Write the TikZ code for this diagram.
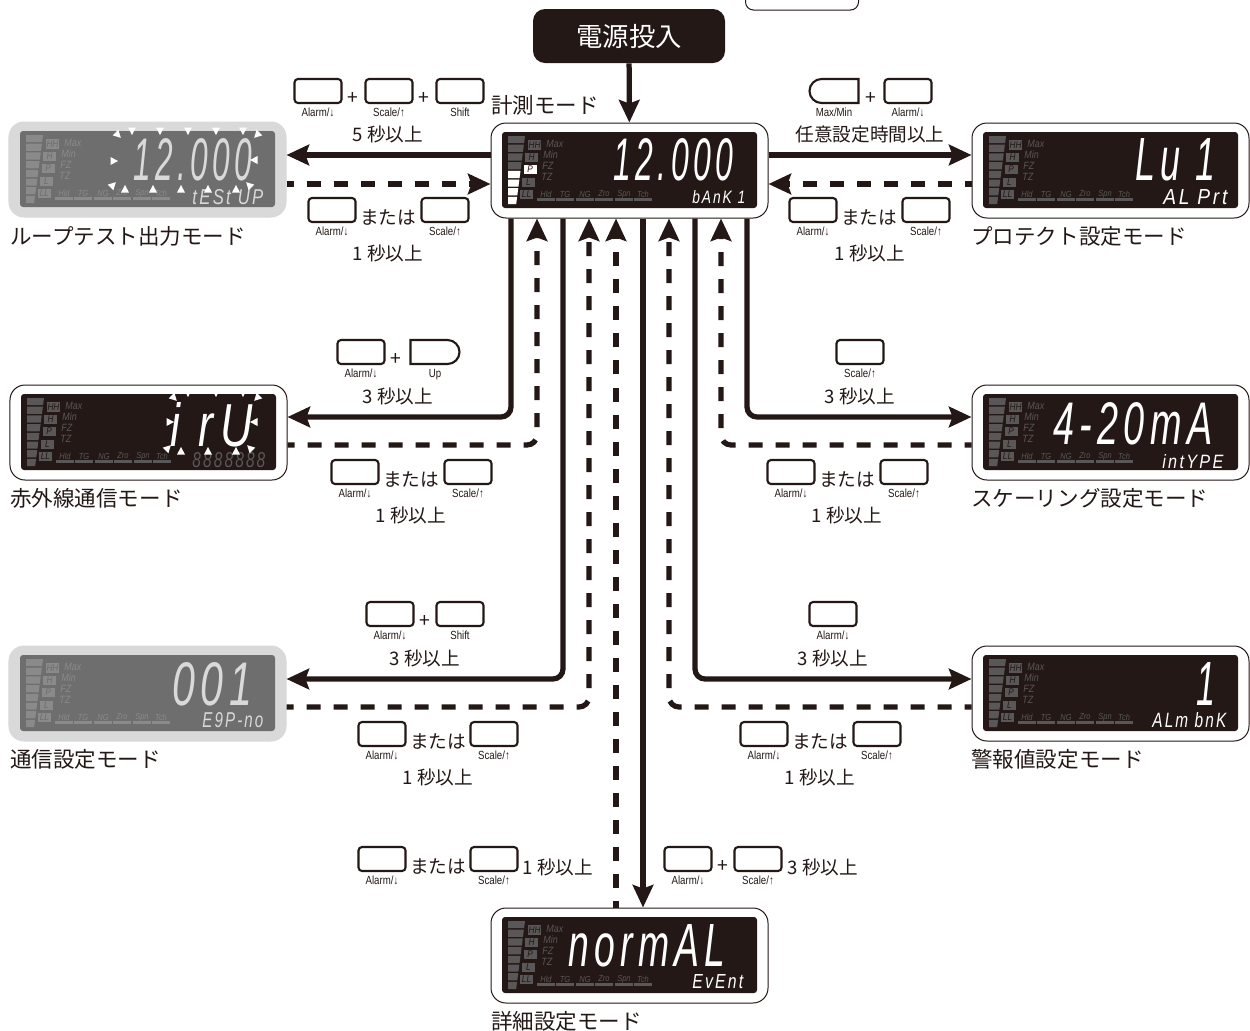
\documentclass[tikz,border=0pt]{standalone}
\usepackage{graphicx}
\usepackage{fontspec}
\setmainfont{Noto Sans CJK JP}
\newfontfamily\keyfont[FakeStretch=0.82]{Liberation Sans}
\newfontfamily\lcdfont[FakeStretch=0.85]{Liberation Sans}
\newfontfamily\segfont[LetterSpace=14]{Liberation Sans}
\usetikzlibrary{arrows.meta,positioning,shapes.misc}
\definecolor{sumi}{HTML}{231815}
\definecolor{legendon}{HTML}{595757}
\definecolor{legendoff}{HTML}{8A8A8A}
\definecolor{lcdoff}{HTML}{6E6E6E}
\definecolor{paneloff}{HTML}{D9D9D9}
\newdimen\lcdpx \lcdpx=0.2mm
\newcommand\seg[3]{\resizebox{#1\lcdpx}{#2\lcdpx}{\segfont\itshape #3}}
\tikzset{
  panel/.style={draw=sumi,line width=.2mm,fill=white,rounded corners=3mm,minimum width=55.4mm,minimum height=19mm,inner sep=0pt},
  paneldim/.style={panel,draw=paneloff,fill=paneloff},
  keyrect/.style={draw=sumi,line width=.42mm,rounded corners=.7mm,minimum width=9.4mm,minimum height=4.8mm,inner sep=0pt},
  keyleft/.style={draw=sumi,line width=.42mm,rounded rectangle,rounded rectangle east arc=none,minimum width=9.8mm,minimum height=4.8mm,inner sep=0pt},
  keyright/.style={draw=sumi,line width=.42mm,rounded rectangle,rounded rectangle west arc=none,minimum width=9.8mm,minimum height=4.8mm,inner sep=0pt},
  keylbl/.style={font=\keyfont\fontsize{6.7}{6.7}\selectfont,text=sumi,inner sep=0pt},
  modelbl/.style={font=\fontsize{12.25}{12.25}\selectfont,text=sumi,anchor=west,inner sep=0pt,yshift=-.3mm},
  cond/.style={font=\fontsize{10.6}{10.6}\selectfont,text=sumi,inner sep=0pt,yshift=-.3mm},
  plus/.style={font=\fontsize{11}{11}\selectfont,text=sumi,inner sep=0pt,yshift=-.3mm},
  bigseg/.style={text=white,anchor=south west,inner sep=0pt},
  subseg/.style={text=white,anchor=south west,inner sep=0pt},
  flow/.style={draw=sumi,line width=1.05mm,rounded corners=2mm,-{Stealth[length=4.5mm,width=4.1mm,inset=.7mm]}},
  back/.style={flow,dash pattern=on 2.8mm off 2.6mm,dash phase=1.4mm},
}
% one bar of the level gauge
\newcommand\lcdbar[2]{%
  \pgfmathsetmacro\ya{13+8.7*#1}\pgfmathsetmacro\yb{\ya+7.2}%
  \pgfmathsetmacro\xa{34-(\ya-13)*.13}\pgfmathsetmacro\xb{34-(\yb-13)*.13}%
  \fill[#2] (17,\ya) -- (\xa,\ya) -- (\xb,\yb) -- (17,\yb) -- cycle;}
% name, left, top, panel style, lcd colour, legend colour
\newcommand\lcdpanel[6]{%
  \node (#1) [#4] at (#2+138.5,#3+47.5) {};
  \begin{scope}[shift={(#2,#3)}]
  \fill[#5,rounded corners=.6mm] (11,9) rectangle (266,85);
  \foreach \i in {0,...,7} {\lcdbar{\i}{#6}}
  \foreach \t/\cx/\cy in {HH/43.5/22,H/40.5/34.5,P/39/46.5,L/37.5/59.5,LL/35.5/71.5} {
    \node (#1-\t) [fill=#6,text=#5,font=\lcdfont\itshape\fontsize{5.5}{5.5}\selectfont,minimum width=2.6mm,minimum height=1.9mm,inner sep=0pt] at (\cx,\cy) {\t};
  }
  \foreach \t/\cx/\cy in {Max/55/21,Min/52/32,FZ/51/43,TZ/50/54} {
    \node (#1-\t) [text=#6,anchor=west,font=\lcdfont\itshape\fontsize{6}{6}\selectfont,inner sep=0pt] at (\cx,\cy) {\t};
  }
  \foreach \t/\cx in {Hld/55,TG/74,NG/94,Zro/113,Spn/133,Tch/152} {
    \node (#1-\t) [text=#6,font=\lcdfont\itshape\fontsize{5}{5}\selectfont,inner sep=0pt] at (\cx,71) {\t};
    \fill[#6] (\cx-9,75) rectangle (\cx+9,78);
  }
  \end{scope}}
% style, name, position, label
\newcommand\keybtn[4][keyrect]{%
  \node (#2) [#1] at (#3) {};
  \node (#2l) [keylbl,below=.75mm of #2] {#4};}
\newcommand\blink[3]{\fill[white,shift={(#1,#2)},rotate=#3] (-4,-3.5) -- (4,-3.5) -- (0,4) -- cycle;}
\begin{document}
\begin{tikzpicture}[x=0.2mm,y=-0.2mm]
\useasboundingbox (0,0) rectangle (1250,1030);
\fill[white] (0,0) rectangle (1250,1030);

% top
\node (topkey) [draw=sumi,line width=.2mm,rounded corners=1.6mm,minimum width=22.6mm,minimum height=8mm] at (802,-10) {};
\node (power) [fill=sumi,text=white,rounded corners=2.4mm,minimum width=38.4mm,minimum height=10.8mm,font=\fontsize{15}{15}\selectfont] at (629,36) {電源投入};

% panels
\lcdpanel{keisoku}{491}{123}{panel}{sumi}{legendon}
\lcdpanel{looptest}{9}{122}{paneldim}{lcdoff}{legendoff}
\lcdpanel{protect}{972}{123}{panel}{sumi}{legendon}
\lcdpanel{irda}{10}{385}{panel}{sumi}{legendon}
\lcdpanel{scaling}{972}{385}{panel}{sumi}{legendon}
\lcdpanel{commset}{9}{646}{paneldim}{lcdoff}{legendoff}
\lcdpanel{alarmset}{972}{646}{panel}{sumi}{legendon}
\lcdpanel{detail}{491}{908}{panel}{sumi}{legendon}

% lit parts of the main panel
\begin{scope}[shift={(491,123)}]
\foreach \i in {4,...,7} {\lcdbar{\i}{white}}
\end{scope}
\node (keisoku-Plit) [fill=white,text=sumi,font=\lcdfont\itshape\fontsize{5.5}{5.5}\selectfont,minimum width=2.6mm,minimum height=1.9mm,inner sep=0pt] at (530,169.5) {P};

% display texts
\node (keisokubig) [bigseg] at (613,181) {\seg{120}{42}{12.000}};
\node (keisokusub) [subseg] at (692,204) {\seg{53}{13}{bAnK 1}};
\node (loopbig) [bigseg,text=paneloff] at (133,181) {\seg{119}{42}{12.000}};
\node (loopsub) [subseg,text=paneloff] at (192,205) {\seg{71}{15}{tESt UP}};
\node (protectbig) [bigseg] at (1135,181) {\seg{80}{42}{Lu 1}};
\node (protectsub) [subseg] at (1163,205) {\seg{64}{15}{AL Prt}};
\node (irdabig) [bigseg] at (170,447) {\seg{82}{44}{i rU}};
\node (irdasub) [subseg,text=legendon] at (192,468) {\seg{73}{15}{8888888}};
\node (scalingbig) [bigseg] at (1053,445) {\seg{159}{42}{4-20mA}};
\node (scalingsub) [subseg] at (1162,469) {\seg{61}{14}{intYPE}};
\node (commbig) [bigseg,text=paneloff] at (172,706) {\seg{80}{43}{001}};
\node (commsub) [subseg,text=paneloff] at (202,728) {\seg{61}{15}{E9P-no}};
\node (alarmbig) [bigseg] at (1196,706) {\seg{19}{43}{1}};
\node (alarmsub) [subseg] at (1152,728) {\seg{74}{15}{ALm bnK}};
\node (detailbig) [bigseg] at (568,967) {\seg{157}{42}{normAL}};
\node (detailsub) [subseg] at (692,989) {\seg{51}{14}{EvEnt}};

% blinking marks
\foreach \x in {132,160,188,216,243} {\blink{\x}{131}{0}}
\foreach \x in {125,153,181,208,236} {\blink{\x}{189}{180}}
\blink{118}{135}{45} \blink{257}{135}{-45} \blink{114}{161}{90}
\blink{254}{160}{-90} \blink{113}{185}{135} \blink{249}{185}{-135}
\foreach \x in {188,216,243} {\blink{\x}{393}{0}}
\foreach \x in {181,208,236} {\blink{\x}{451}{180}}
\blink{174}{398}{45} \blink{257}{398}{-45} \blink{170}{422}{90}
\blink{254}{422}{-90} \blink{168}{448}{135} \blink{250}{448}{-135}

% connectors
\draw[flow] (power) -- (keisoku);
\draw[flow] (keisoku.west |- 0,155) -- (looptest.east |- 0,155);
\draw[back] (looptest.east |- 0,184) -- (keisoku.west |- 0,184);
\draw[flow] (keisoku.east |- 0,155) -- (protect.west |- 0,155);
\draw[back] (protect.west |- 0,184) -- (keisoku.east |- 0,184);
\draw[flow] (keisoku.south -| 511,0) |- (irda.east |- 0,417);
\draw[back] (irda.east |- 0,445) -| (keisoku.south -| 537,0);
\draw[flow] (keisoku.south -| 563,0) |- (commset.east |- 0,679);
\draw[back] (commset.east |- 0,707) -| (keisoku.south -| 589,0);
\draw[back] (detail.north -| 616,0) -- (keisoku.south -| 616,0);
\draw[flow] (keisoku.south -| 643,0) -- (detail.north -| 643,0);
\draw[flow] (keisoku.south -| 695,0) |- (alarmset.west |- 0,679);
\draw[back] (alarmset.west |- 0,707) -| (keisoku.south -| 669,0);
\draw[flow] (keisoku.south -| 747,0) |- (scaling.west |- 0,417);
\draw[back] (scaling.west |- 0,445) -| (keisoku.south -| 721,0);

% mode names
\node (m1) [modelbl] at (491,104) {計測モード};
\node (m2) [modelbl] at (10,235) {ループテスト出力モード};
\node (m3) [modelbl] at (971,235) {プロテクト設定モード};
\node (m4) [modelbl] at (10,497) {赤外線通信モード};
\node (m5) [modelbl] at (971,497) {スケーリング設定モード};
\node (m6) [modelbl] at (10,758) {通信設定モード};
\node (m7) [modelbl] at (971,758) {警報値設定モード};
\node (m8) [modelbl] at (491,1020) {詳細設定モード};

% keys to loop test
\keybtn{a1}{318,91}{Alarm/↓}
\node (a1p) [plus] at (353,97) {+};
\keybtn{a2}{389,91}{Scale/↑}
\node (a2p) [plus] at (424,97) {+};
\keybtn{a3}{460,91}{Shift}
\node (a3t) [cond] at (388,133) {5 秒以上};
\keybtn{b1}{332,210}{Alarm/↓}
\node (b1t) [cond] at (388,216) {または};
\keybtn{b2}{445,210}{Scale/↑}
\node (b2t) [cond] at (388,252) {1 秒以上};

% keys to protect
\keybtn[keyleft]{c1}{834,91}{Max/Min}
\node (c1p) [plus] at (871,97) {+};
\keybtn{c2}{908,91}{Alarm/↓}
\node (c2t) [cond] at (870,133) {任意設定時間以上};
\keybtn{d1}{813,210}{Alarm/↓}
\node (d1t) [cond] at (869,216) {または};
\keybtn{d2}{926,210}{Scale/↑}
\node (d2t) [cond] at (870,252) {1 秒以上};

% keys to infrared
\keybtn{e1}{361,352}{Alarm/↓}
\node (e1p) [plus] at (396,358) {+};
\keybtn[keyright]{e2}{435,352}{Up}
\node (e2t) [cond] at (398,395) {3 秒以上};
\keybtn{f1}{355,472}{Alarm/↓}
\node (f1t) [cond] at (411,478) {または};
\keybtn{f2}{468,472}{Scale/↑}
\node (f2t) [cond] at (411,514) {1 秒以上};

% keys to scaling
\keybtn{g1}{860,352}{Scale/↑}
\node (g1t) [cond] at (860,395) {3 秒以上};
\keybtn{h1}{791,472}{Alarm/↓}
\node (h1t) [cond] at (847,478) {または};
\keybtn{h2}{904,472}{Scale/↑}
\node (h2t) [cond] at (847,514) {1 秒以上};

% keys to communication
\keybtn{i1}{390,614}{Alarm/↓}
\node (i1p) [plus] at (425,620) {+};
\keybtn{i2}{460,614}{Shift}
\node (i2t) [cond] at (425,657) {3 秒以上};
\keybtn{j1}{382,734}{Alarm/↓}
\node (j1t) [cond] at (438,740) {または};
\keybtn{j2}{494,734}{Scale/↑}
\node (j2t) [cond] at (438,776) {1 秒以上};

% keys to alarm value
\keybtn{k1}{833,614}{Alarm/↓}
\node (k1t) [cond] at (833,657) {3 秒以上};
\keybtn{l1}{764,734}{Alarm/↓}
\node (l1t) [cond] at (820,740) {または};
\keybtn{l2}{877,734}{Scale/↑}
\node (l2t) [cond] at (820,776) {1 秒以上};

% keys to detail
\keybtn{n1}{382,859}{Alarm/↓}
\node (n1t) [cond] at (438,865) {または};
\keybtn{n2}{494,859}{Scale/↑}
\node (n2t) [cond] at (558,866) {1 秒以上};
\keybtn{o1}{688,859}{Alarm/↓}
\node (o1p) [plus] at (723,865) {+};
\keybtn{o2}{758,859}{Scale/↑}
\node (o2t) [cond] at (823,866) {3 秒以上};
\end{tikzpicture}
\end{document}
